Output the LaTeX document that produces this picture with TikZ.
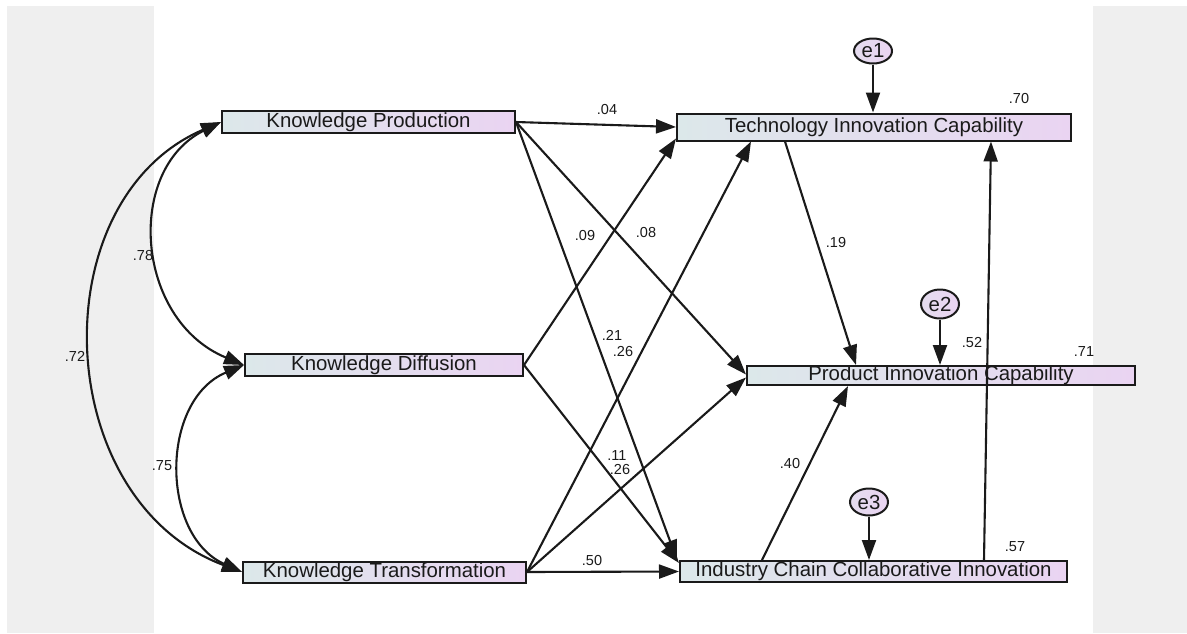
\documentclass[tikz,border=0pt]{standalone}
\usepackage{fontspec}
\setmainfont{Liberation Sans}
\usetikzlibrary{arrows.meta,shapes.geometric}
\definecolor{panel}{HTML}{EFEFEF}
\definecolor{boxl}{HTML}{DCE8EA}
\definecolor{boxr}{HTML}{EAD4F2}
\definecolor{ink}{HTML}{1A1A1A}
\begin{document}
\begin{tikzpicture}[x=1pt,y=-1pt,
  obs/.style={draw=ink, line width=2pt, left color=boxl, right color=boxr,
    inner sep=0pt, font=\fontsize{20.4}{22}\selectfont, text=ink},
  errvar/.style={ellipse, draw=ink, line width=2pt, left color=boxl!40!boxr,
    right color=boxr, inner sep=0pt, minimum width=38pt,
    font=\fontsize{20.4}{22}\selectfont, text=ink},
  reg/.style={line width=2.1pt, draw=ink, -{Triangle[length=20pt,width=14pt]}},
  covar/.style={line width=2.1pt, draw=ink,
    {Triangle[length=20pt,width=14pt]}-{Triangle[length=20pt,width=14pt]}},
  coef/.style={font=\fontsize{14.5}{16}\selectfont, text=ink, inner sep=0pt}]

% canvas and side panels
\fill[white] (0,0) rectangle (1187,633);
\fill[panel] (7,6) rectangle (154,633);
\fill[panel] (1093,6) rectangle (1187,633);
\useasboundingbox (0,0) rectangle (1187,633);

% observed variables
\node[obs, minimum width=293pt, minimum height=22pt] (KP) at (368.5,122) {Knowledge Production};
\node[obs, minimum width=278pt, minimum height=22pt] (KD) at (384,365) {Knowledge Diffusion};
\node[obs, minimum width=283pt, minimum height=21pt] (KT) at (384.5,572) {Knowledge Transformation};
\node[obs, minimum width=394pt, minimum height=27pt] (TIC) at (874,127) {Technology Innovation Capability};
\node[obs, minimum width=388pt, minimum height=19pt] (PIC) at (941,375.5) {Product Innovation Capability};
\node[obs, minimum width=387pt, minimum height=21pt] (ICCI) at (873.5,571.5) {Industry Chain Collaborative Innovation};

% error terms
\node[errvar, minimum height=25pt] (e1) at (873,51) {e1};
\node[errvar, minimum height=29pt] (e2) at (940,304) {e2};
\node[errvar, minimum height=27pt] (e3) at (869,502) {e3};

% covariances
\draw[covar] (KP.west) .. controls (125,170) and (135,320) .. (KD.west);
\draw[covar] (KD.west) .. controls (160,400) and (160,535) .. (KT.west);
\draw[covar] (KP.west) .. controls (40,200) and (50,500) .. (KT.west);

% regression paths
\draw[reg] (KP.east) -- (TIC.west);
\draw[reg] (KP.east) -- ([yshift=1pt]PIC.west);
\draw[reg] (KP.east) -- ([xshift=-2pt]ICCI.north west);
\draw[reg] (KD.east) -- ([yshift=3pt]TIC.south west);
\draw[reg] (KD.east) -- ([yshift=-3pt]ICCI.north west);
\draw[reg] (KT.east) -- ([xshift=75pt]TIC.south west);
\draw[reg] (KT.east) -- ([yshift=-2pt]PIC.west);
\draw[reg] (KT.east) -- (ICCI.west);
\draw[reg] ([xshift=109pt]TIC.south west) -- ([xshift=110pt]PIC.north west);
\draw[reg] ([xshift=83pt]ICCI.north west) -- ([xshift=102pt]PIC.south west);
\draw[reg] ([xshift=305pt]ICCI.north west) -- ([xshift=315pt]TIC.south west);
\draw[reg] (e1.south) -- (e1.south |- TIC.north);
\draw[reg] (e2.south) -- (e2.south |- PIC.north);
\draw[reg] (e3.south) -- (e3.south |- ICCI.north);

% estimates
\node[coef] (c04) at (607,110) {.04};
\node[coef] (c08) at (646,233) {.08};
\node[coef] (c09) at (585,236) {.09};
\node[coef] (c21) at (612,335) {.21};
\node[coef] (c26a) at (623,352) {.26};
\node[coef] (c11) at (617,456) {.11};
\node[coef] (c26b) at (620,469) {.26};
\node[coef] (c50) at (592,560) {.50};
\node[coef] (c19) at (836,243) {.19};
\node[coef] (c40) at (790,463) {.40};
\node[coef] (c52) at (972,343) {.52};
\node[coef] (c70) at (1019,99) {.70};
\node[coef] (c71) at (1084,352) {.71};
\node[coef] (c57) at (1015,547) {.57};
\node[coef] (c78) at (143,256) {.78};
\node[coef] (c72) at (75,356) {.72};
\node[coef] (c75) at (162,466) {.75};
\end{tikzpicture}
\end{document}
